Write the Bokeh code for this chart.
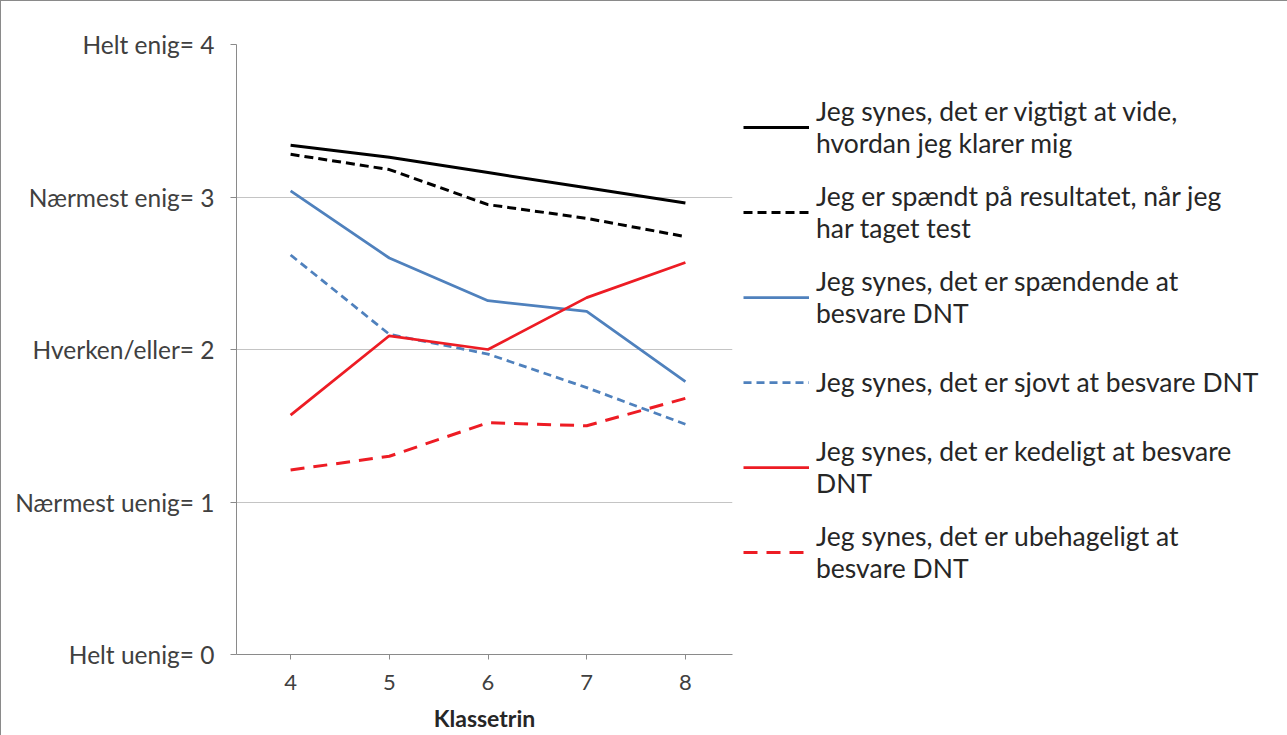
from bokeh.plotting import figure
from bokeh.models import Range1d, FixedTicker, Legend, LegendItem
from bokeh.embed import file_html
from bokeh.resources import INLINE

grades = [4, 5, 6, 7, 8]
y_ticks = [0, 1, 2, 3, 4]
y_tick_labels = ["Helt uenig= 0", "Nærmest uenig= 1", "Hverken/eller= 2",
                 "Nærmest enig= 3", "Helt enig= 4"]

vigtigt = [3.34, 3.26, 3.16, 3.06, 2.96]
spaendt = [3.28, 3.18, 2.95, 2.86, 2.74]
spaendende = [3.04, 2.60, 2.32, 2.25, 1.79]
sjovt = [2.62, 2.10, 1.97, 1.75, 1.51]
kedeligt = [1.57, 2.09, 2.00, 2.34, 2.57]
ubehageligt = [1.21, 1.30, 1.52, 1.50, 1.68]

labels = [
    "Jeg synes, det er vigtigt at vide,\nhvordan jeg klarer mig",
    "Jeg er spændt på resultatet, når jeg\nhar taget test",
    "Jeg synes, det er spændende at\nbesvare DNT",
    "Jeg synes, det er sjovt at besvare DNT",
    "Jeg synes, det er kedeligt at besvare\nDNT",
    "Jeg synes, det er ubehageligt at\nbesvare DNT",
]

FONT = "Lato"

p = figure(frame_width=496, frame_height=610, output_backend="svg", toolbar_location=None,
           x_range=Range1d(3.452, 8.477), y_range=Range1d(0, 4),
           min_border_left=235, min_border_right=540, min_border_top=43,
           min_border_bottom=82)
p.outline_line_color = None
p.background_fill_color = "white"
p.border_fill_color = "white"
p.styles = {"border-left": "1px solid #8a8a8a", "border-top": "1px solid #8a8a8a",
            "border-right": "1px solid #8a8a8a"}

p.xgrid.visible = False
p.ygrid.ticker = FixedTicker(ticks=y_ticks)
p.ygrid.grid_line_color = "#c4c4c4"
p.ygrid.grid_line_width = 1

p.yaxis.ticker = FixedTicker(ticks=y_ticks)
p.yaxis.major_label_overrides = {t: l for t, l in zip(y_ticks, y_tick_labels)}
p.yaxis.major_tick_out = 6
p.yaxis.major_tick_in = 0
p.yaxis.minor_tick_line_color = None
p.yaxis.axis_line_color = "#8a8a8a"
p.yaxis.major_tick_line_color = "#8a8a8a"
p.yaxis.major_label_text_font = FONT
p.yaxis.major_label_text_font_size = "24.5px"
p.yaxis.major_label_text_color = "#404040"
p.yaxis.major_label_standoff = 16

p.xaxis.ticker = FixedTicker(ticks=grades)
p.xaxis.major_tick_out = 5
p.xaxis.major_tick_in = 0
p.xaxis.minor_tick_line_color = None
p.xaxis.axis_line_color = "#8a8a8a"
p.xaxis.major_tick_line_color = "#8a8a8a"
p.xaxis.major_label_text_font = FONT
p.xaxis.major_label_text_font_size = "22px"
p.xaxis.major_label_text_color = "#404040"
p.xaxis.major_label_standoff = 15
p.xaxis.axis_label = "Klassetrin"
p.xaxis.axis_label_text_font = FONT
p.xaxis.axis_label_text_font_size = "23px"
p.xaxis.axis_label_text_font_style = "bold"
p.xaxis.axis_label_text_color = "#262626"
p.xaxis.axis_label_standoff = 11

BLUE = "#4F81BD"
RED = "#ED1C24"
series = [
    (vigtigt, "black", 3, "solid"),
    (spaendt, "black", 3, "9 5"),
    (spaendende, BLUE, 2.75, "solid"),
    (sjovt, BLUE, 2.75, "8 5"),
    (kedeligt, RED, 2.75, "solid"),
    (ubehageligt, RED, 3, "14 9"),
]
items = []
for (vals, col, w, dash), lab in zip(series, labels):
    r = p.line(grades, vals, line_color=col, line_width=w, line_dash=dash)
    items.append(LegendItem(label=lab, renderers=[r]))

legend = Legend(items=items, location=(11, 69))
legend.glyph_width = 66
legend.label_standoff = 7
legend.label_height = 66
legend.spacing = 19
legend.padding = 0
legend.margin = 0
legend.border_line_color = None
legend.background_fill_alpha = 0
legend.label_text_font = FONT
legend.label_text_font_size = "26.5px"
legend.label_text_color = "#262626"
legend.label_text_line_height = 1.3
p.add_layout(legend, "right")

open("out.html", "w").write(file_html(p, INLINE))
